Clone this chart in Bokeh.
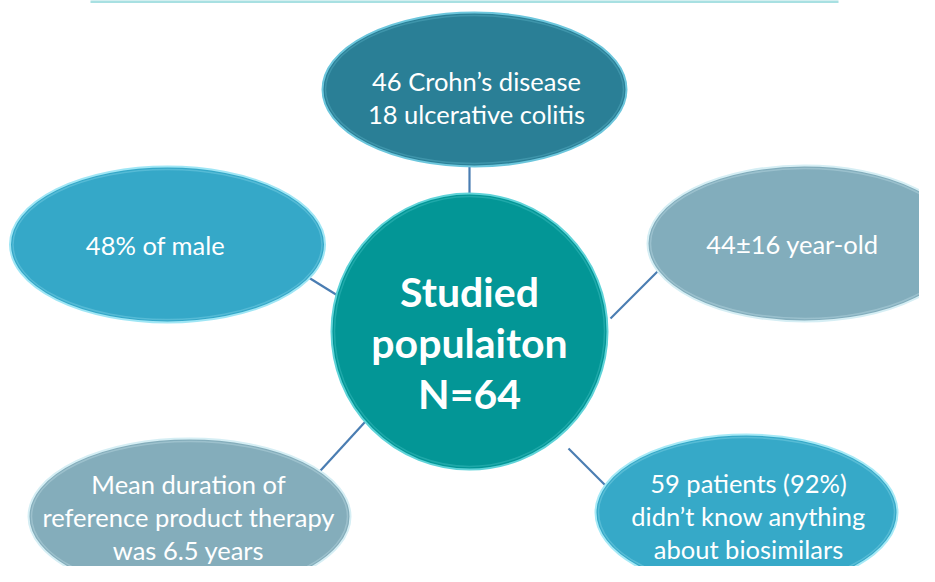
from bokeh.plotting import figure
from bokeh.models import Range1d, ColumnDataSource
from bokeh.core.properties import value
from bokeh.embed import file_html
from bokeh.resources import INLINE

# ---- content ----
center_lines = ["Studied", "populaiton", "N=64"]
node_texts = [
    "46 Crohn\u2019s disease\n18 ulcerative colitis",
    "48% of male",
    "44\u00b116 year-old",
    "Mean duration of\nreference product therapy\nwas 6.5 years",
    "59 patients (92%)\ndidn\u2019t know anything\nabout biosimilars",
]
node_colors = ["#2a7f96", "#35a8c8", "#82adbc", "#84adbb", "#36a9c8"]
node_rims = ["#6cc6dc", "#9fe6f5", "#d5eef4", "#d5eef4", "#a5e9f6"]

# ---- layout (reference pixel coordinates, y measured from top) ----
H = 582
node_cx = [474, 167, 804, 189, 746]
node_cy = [89, 244, 243, 516, 512]
node_w = [304, 315, 314, 322, 302]
node_h = [154, 156, 156, 156, 156]
text_cx = [476, 155, 792, 188, 748]
text_cy = [97, 244, 243, 516, 515]
line_gap = 33
conn_x0 = [469, 300, 662, 310, 568]
conn_y0 = [160, 272, 266, 481, 448]
conn_x1 = [469, 350, 610, 375, 612]
conn_y1 = [200, 303, 318, 410, 492]
circ_cx, circ_cy, circ_r = 469, 331, 138
center_y = [291, 342, 393]

p = figure(width=919, height=566, x_range=Range1d(0, 919), y_range=Range1d(H - 566, H),
           output_backend="svg", toolbar_location=None, min_border=0)
p.axis.visible = False
p.grid.visible = False
p.outline_line_color = None
p.background_fill_color = "white"

# top decorative line
p.segment(x0=[90], y0=[H - 1], x1=[838], y1=[H - 1], line_color="#a8e0e2", line_width=3)

# connectors
p.segment(x0=conn_x0, y0=[H - v for v in conn_y0], x1=conn_x1, y1=[H - v for v in conn_y1],
          line_color="#4a7db2", line_width=2.2)

# ellipses
src = ColumnDataSource(dict(x=node_cx, y=[H - v for v in node_cy], w=node_w, h=node_h,
                            wi=[w - 6 for w in node_w], hi=[h - 6 for h in node_h],
                            c=node_colors, r=node_rims))
p.ellipse(x="x", y="y", width="w", height="h", fill_color="c", line_color="r",
          line_width=2, source=src)
p.ellipse(x="x", y="y", width="wi", height="hi",
          fill_color=None, line_color="r", line_alpha=0.3, line_width=1.5, source=src)

# central circle
p.ellipse(x=[circ_cx], y=[H - circ_cy], width=[2 * circ_r], height=[2 * circ_r],
          fill_color="#039696", line_color="#5fd3d8", line_width=2)
p.ellipse(x=[circ_cx], y=[H - circ_cy], width=[2 * circ_r - 6], height=[2 * circ_r - 6],
          fill_color=None, line_color="#5fd3d8", line_alpha=0.3, line_width=1.5)

# node texts, one glyph row per line
tx, ty, tt = [], [], []
for t, cx, cy in zip(node_texts, text_cx, text_cy):
    parts = t.split("\n")
    n = len(parts)
    for i, s in enumerate(parts):
        tx.append(cx)
        ty.append(H - (cy + (i - (n - 1) / 2) * line_gap))
        tt.append(s)
p.text(x=tx, y=ty, text=tt, text_color="white",
       text_font=value("Lato"), text_font_size="25.5px", text_align="center",
       text_baseline="middle")

# center texts
p.text(x=[circ_cx] * 3, y=[H - v for v in center_y], text=center_lines, text_color="white",
       text_font=value("Lato"), text_font_style="bold", text_font_size="41px",
       text_align="center", text_baseline="middle")

open("out.html", "w").write(file_html(p, INLINE))
